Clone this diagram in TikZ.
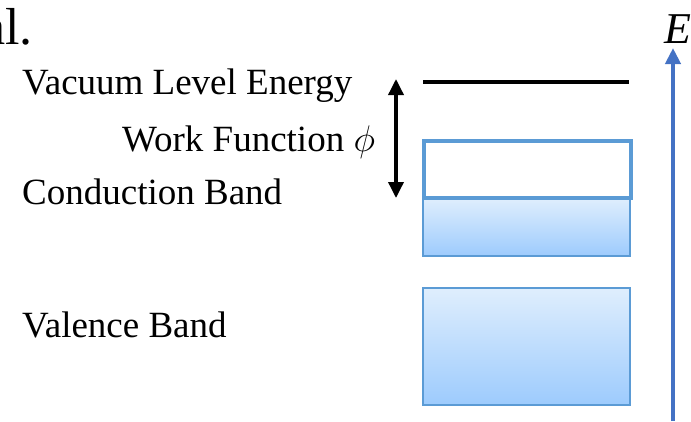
\RequirePackage{fix-cm}
\documentclass[tikz,border=0pt]{standalone}
\usepackage{fontspec}
\setmainfont{Liberation Serif}
\usetikzlibrary{arrows.meta}
\definecolor{bandedge}{HTML}{5B9BD5}
\definecolor{bandtop}{HTML}{DFEEFD}
\definecolor{bandbot}{HTML}{9DCBFD}
\definecolor{axisblue}{HTML}{4472C4}
\begin{document}
\begin{tikzpicture}[x=1pt,y=-1pt,
  lbl/.style={inner sep=0pt,anchor=base west,font=\fontsize{37}{44}\selectfont},
  bandbox/.style={draw=bandedge,line width=2.2pt,top color=bandtop,bottom color=bandbot,minimum width=207pt,inner sep=0pt,anchor=north west},
  gapbox/.style={draw=bandedge,line width=4pt,fill=white,minimum width=207pt,minimum height=57pt,inner sep=0pt,anchor=north west},
  bigtip/.tip={Triangle[width=15pt,length=16pt]}]
\useasboundingbox (0,0) rectangle (691,421);
% labels
\node[inner sep=0pt,anchor=base east,font=\fontsize{52}{60}\selectfont] (al) at (33,44) {al.};
\node[lbl] (vac) at (22,94) {Vacuum Level Energy};
\node[lbl] (wf) at (122,151) {Work Function $\phi$};
\node[lbl] (cbl) at (22,204) {Conduction Band};
\node[lbl] (vbl) at (22,337) {Valence Band};
\node[inner sep=0pt,anchor=base west,font=\fontsize{44}{50}\selectfont\itshape] (E) at (664,43) {E};
% bands
\node[bandbox,minimum height=58pt] (cb) at (422,197) {};
\node[bandbox,minimum height=117pt] (vb) at (422,287) {};
\node[gapbox] (gap) at (422,139) {};
% vacuum level
\coordinate (vl) at (423,82);
\coordinate (vr) at (629,82);
\draw[line width=4.5pt] (vl) -- (vr);
% work function arrow
\coordinate (wtop) at (396,79);
\coordinate (wbot) at (396,198);
\draw[line width=3.5pt,bigtip-bigtip] (wtop) -- (wbot);
% energy axis
\coordinate (ebot) at (673,421);
\coordinate (etop) at (673,48);
\draw[axisblue,line width=4pt,-bigtip] (ebot) -- (etop);
\end{tikzpicture}
\end{document}
